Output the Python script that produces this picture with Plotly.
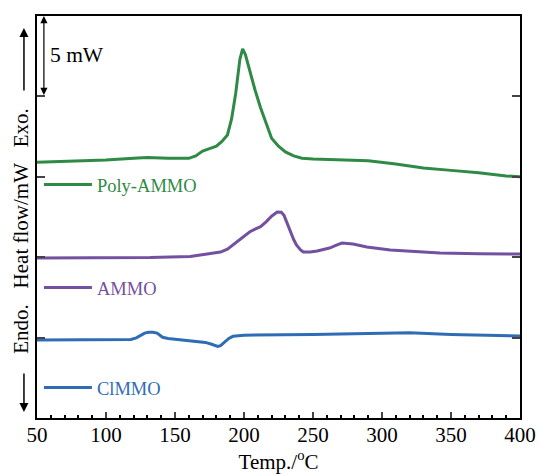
import plotly.graph_objects as go

# Temperature (°C) and heat flow (mW, stacked offsets)
poly_t = [50, 70, 100, 120, 130, 145, 160, 165, 170, 175, 180, 184, 188, 191, 194, 197, 199, 201,
          204, 208, 212, 216, 220, 225, 230, 236, 242, 250, 270, 290, 310, 330, 350, 370, 390, 400]
poly_y = [15.9, 15.95, 16.05, 16.15, 16.2, 16.15, 16.15, 16.3, 16.6, 16.75, 16.9, 17.2, 17.6, 18.6,
          20.2, 22.3, 22.95, 22.6, 21.6, 20.4, 19.3, 18.3, 17.4, 16.9, 16.55, 16.3, 16.15, 16.1,
          16.05, 16.0, 15.8, 15.55, 15.4, 15.25, 15.05, 15.0]

ammo_t = [50, 100, 132, 161, 175, 183, 188, 192, 198, 204, 208, 212, 216, 220, 224, 227, 229,
          231, 233, 236, 238, 241, 243, 248, 253, 258, 262, 267, 271, 279, 289, 306, 342, 370, 400]
ammo_y = [9.95, 9.97, 9.98, 10.05, 10.2, 10.32, 10.5, 10.76, 11.2, 11.57, 11.75, 11.9, 12.2, 12.55,
          12.81, 12.8, 12.6, 12.15, 11.69, 11.1, 10.76, 10.45, 10.32, 10.33, 10.39, 10.47, 10.57,
          10.75, 10.88, 10.82, 10.63, 10.45, 10.26, 10.22, 10.2]

clmmo_t = [50, 100, 118, 122, 125, 128, 131, 134, 137, 139, 141, 145, 160, 172, 176, 179, 181,
           183, 186, 189, 192, 196, 200, 250, 300, 320, 350, 400]
clmmo_y = [4.85, 4.85, 4.88, 4.98, 5.15, 5.28, 5.33, 5.33, 5.28, 5.15, 5.02, 4.95, 4.8, 4.7, 4.6,
           4.5, 4.45, 4.5, 4.7, 4.95, 5.08, 5.13, 5.15, 5.2, 5.3, 5.3, 5.2, 5.1]

names = ["Poly-AMMO", "AMMO", "ClMMO"]
colors = ["#2f8a46", "#7350a0", "#2e6db5"]

FONT = "Liberation Serif"

fig = go.Figure()
series = [(poly_t, poly_y), (ammo_t, ammo_y), (clmmo_t, clmmo_y)]
legend_ids = ["legend", "legend2", "legend3"]
for (t, y), n, c, lg in zip(series, names, colors, legend_ids):
    fig.add_trace(go.Scatter(x=t, y=y, mode="lines", name=n, showlegend=True,
                             line=dict(color=c, width=3), legend=lg))

leg_common = dict(x=0.004, xanchor="left", yanchor="middle", bgcolor="rgba(0,0,0,0)",
                  itemwidth=48, borderwidth=0, visible=True)
fig.update_layout(
    width=540, height=474,
    showlegend=True,
    margin=dict(l=37, r=20, t=16, b=56, autoexpand=False),
    paper_bgcolor="white", plot_bgcolor="white",
    font=dict(family=FONT, size=21, color="black"),
    legend=dict(y=0.5796, font=dict(family=FONT, size=18.5, color=colors[0]), **leg_common),
    legend2=dict(y=0.3234, font=dict(family=FONT, size=18.5, color=colors[1]), **leg_common),
    legend3=dict(y=0.0746, font=dict(family=FONT, size=18.5, color=colors[2]), **leg_common),
    xaxis=dict(range=[50, 400], dtick=50, ticks="inside", ticklen=6, tickwidth=2,
               showline=True, linewidth=2, linecolor="black", mirror=True,
               showgrid=False, zeroline=False, automargin=False, ticklabelstandoff=-3,
               minor=dict(dtick=10, ticks="inside", ticklen=3, tickwidth=1.5, tickcolor="black"),
               tickfont=dict(family=FONT, size=21),
               title=dict(text="Temp./<sup>o</sup>C", font=dict(family=FONT, size=21), standoff=2)),
    yaxis=dict(range=[0, 25], dtick=5, ticks="inside", ticklen=8, tickwidth=2,
               showline=True, linewidth=2, linecolor="black", mirror="allticks",
               showgrid=False, zeroline=False, showticklabels=False, automargin=False),
)

# y-axis label with arrows
fig.add_annotation(text="Endo.\u00a0\u00a0\u00a0Heat flow/mW\u00a0\u00a0\u00a0Exo.", textangle=-90,
                   xref="paper", yref="paper", x=-0.033, y=0.466, showarrow=False,
                   font=dict(family=FONT, size=21), xanchor="center", yanchor="middle")
fig.add_annotation(text="", xref="paper", yref="paper", x=-0.027, y=0.970,
                   ax=0, ay=64, showarrow=True, arrowhead=2, arrowsize=1.2, arrowwidth=1.5,
                   arrowcolor="black")
fig.add_annotation(text="", xref="paper", yref="paper", x=-0.027, y=0.015,
                   ax=0, ay=-40, showarrow=True, arrowhead=2, arrowsize=1.2, arrowwidth=1.5,
                   arrowcolor="black")

# 5 mW scale bar
fig.add_annotation(text="", x=55, y=25, xref="x", yref="y", ax=55, ay=20, axref="x", ayref="y",
                   showarrow=True, arrowhead=2, arrowside="end+start", arrowsize=1.2,
                   arrowwidth=1.2, arrowcolor="black")
fig.add_annotation(text="5 mW", x=58, y=22.6, xref="x", yref="y", showarrow=False,
                   xanchor="left", yanchor="middle", font=dict(family=FONT, size=21.5))

# remove the default 8px page margin so the figure fills the window exactly
fig.write_html("out.html", config={"displayModeBar": False},
               post_script="document.body.style.margin='0';document.body.style.overflow='hidden';")
